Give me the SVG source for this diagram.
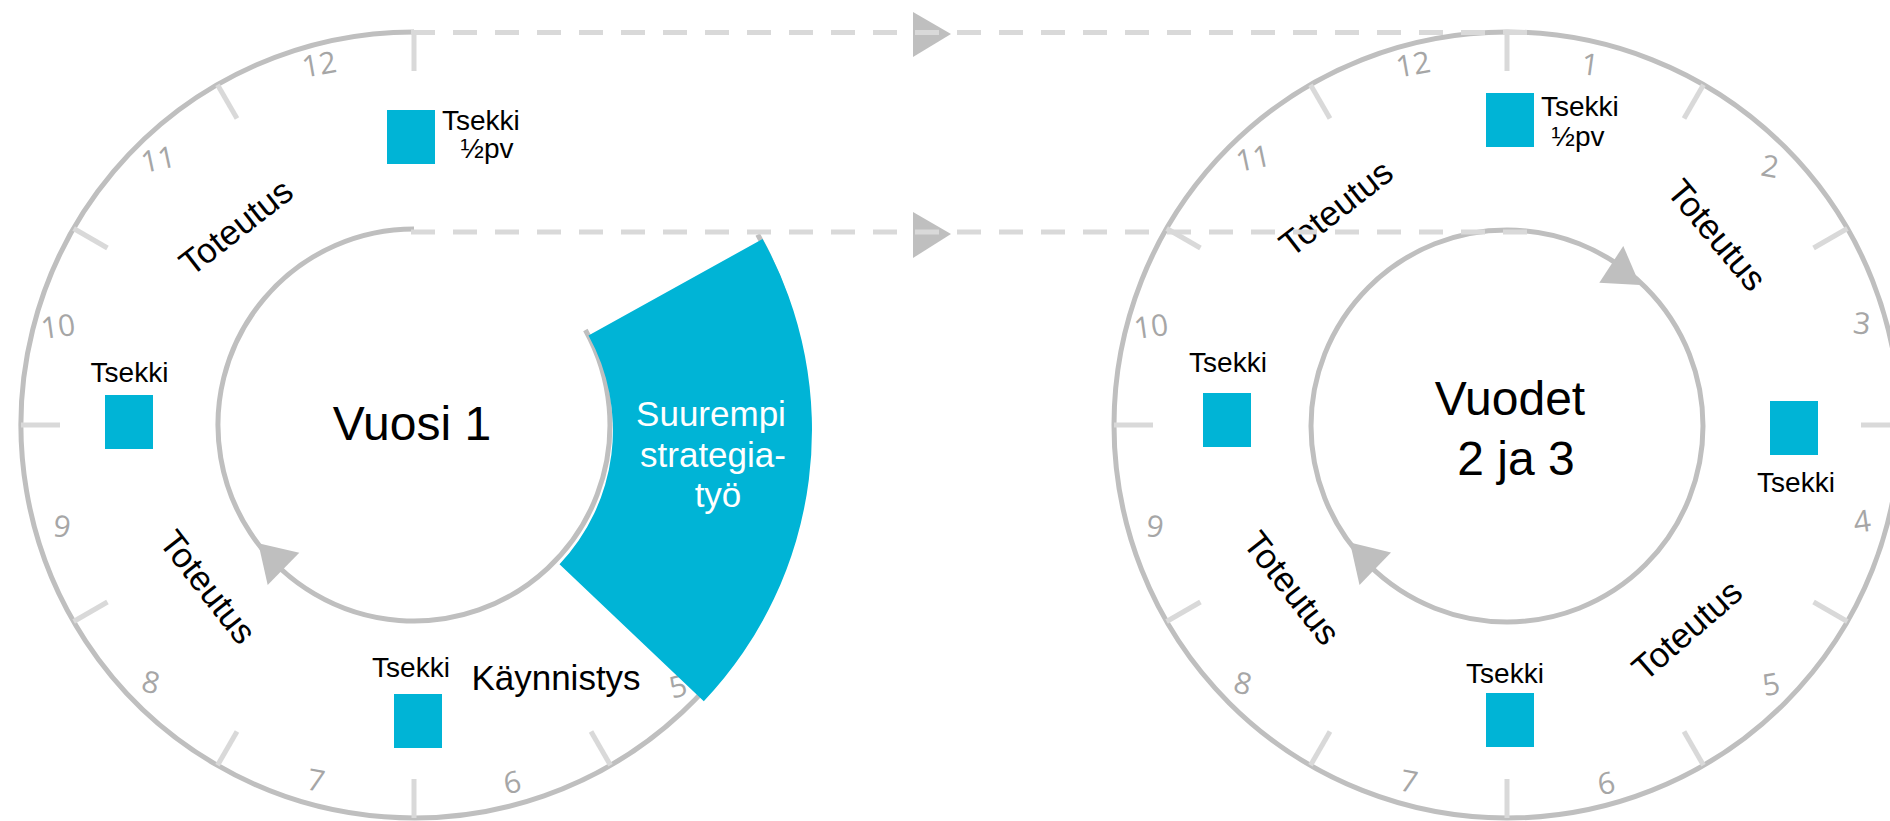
<svg xmlns="http://www.w3.org/2000/svg" width="1890" height="821" viewBox="0 0 1890 821">
<style>
.ring{fill:none;stroke:#BFBFBF;stroke-width:5}
.tick{stroke:#D9D9D9;stroke-width:5}
.num{font-family:"Open Sans","Liberation Sans",sans-serif;font-weight:400;font-size:30px;fill:#A6A6A6;text-anchor:middle}
.lbl{font-family:"Liberation Sans",sans-serif;font-size:28px;fill:#000}
.mid{text-anchor:middle}
.phase{font-family:"Liberation Sans",sans-serif;font-size:35px;fill:#000;text-anchor:middle}
.title{font-family:"Liberation Sans",sans-serif;font-size:48px;fill:#000;text-anchor:middle}
.white{font-family:"Liberation Sans",sans-serif;font-size:35px;fill:#FFFFFF;text-anchor:middle}
.chk{fill:#00B4D6}
.dash{stroke:#D9D9D9;stroke-width:5;stroke-dasharray:24 18;fill:none}
.ah{fill:#BFBFBF}
</style>
<rect width="1890" height="821" fill="#FFFFFF"/>

<!-- Left clock: Vuosi 1 -->
<g id="clock-vuosi1">
  <path class="ring" d="M 757.7 234.5 A 393 393 0 1 1 414 32"/>
  <path class="ring" d="M 585.4 330 A 196 196 0 1 1 414 229"/>
  <g transform="translate(414,425)">
    <line class="tick" x1="0" y1="-393" x2="0" y2="-354" transform="rotate(150)"/>
    <line class="tick" x1="0" y1="-393" x2="0" y2="-354" transform="rotate(180)"/>
    <line class="tick" x1="0" y1="-393" x2="0" y2="-354" transform="rotate(210)"/>
    <line class="tick" x1="0" y1="-393" x2="0" y2="-354" transform="rotate(240)"/>
    <line class="tick" x1="0" y1="-393" x2="0" y2="-354" transform="rotate(270)"/>
    <line class="tick" x1="0" y1="-393" x2="0" y2="-354" transform="rotate(300)"/>
    <line class="tick" x1="0" y1="-393" x2="0" y2="-354" transform="rotate(330)"/>
    <line class="tick" x1="0" y1="-393" x2="0" y2="-354" transform="rotate(360)"/>
  </g>
  <text class="num" transform="translate(319,64) rotate(-10)" y="11">12</text>
  <text class="num" transform="translate(158,159) rotate(-12)" y="11">11</text>
  <text class="num" transform="translate(58,326) rotate(-8)" y="11">10</text>
  <text class="num" transform="translate(62,526) rotate(8)" y="11">9</text>
  <text class="num" transform="translate(151,682) rotate(14)" y="11">8</text>
  <text class="num" transform="translate(316,780) rotate(10)" y="11">7</text>
  <text class="num" transform="translate(512,782) rotate(-12)" y="11">6</text>
  <text class="num" transform="translate(678,686) rotate(-14)" y="11">5</text>
  <polygon class="ah" points="258.3,543.3 299.3,552.7 267.7,585"/>
  <text class="title" x="412" y="440">Vuosi 1</text>
  <text class="phase" transform="translate(236,227) rotate(-38)" y="12">Toteutus</text>
  <text class="phase" transform="translate(208,587) rotate(52)" y="12">Toteutus</text>
  <text class="phase" x="556" y="690">Käynnistys</text>
</g>

<g id="strategiatyo">
  <path fill="#00B4D6" d="M 762.6 239 A 394 394 0 0 1 703.8 701.2 L 559.5 564.2 A 195 195 0 0 0 588.5 335.5 Z"/>
  <text class="white" x="711" y="426">Suurempi</text>
  <text class="white" x="713" y="467">strategia-</text>
  <text class="white" x="718" y="507">työ</text>
</g>

<g id="tsekki-v1-top">
  <rect class="chk" x="387" y="110" width="48" height="54"/>
  <text class="lbl" x="442" y="130">Tsekki</text>
  <text class="lbl mid" x="487" y="158">½pv</text>
</g>
<g id="tsekki-v1-left">
  <rect class="chk" x="105" y="395" width="48" height="54"/>
  <text class="lbl mid" x="129.5" y="382">Tsekki</text>
</g>
<g id="tsekki-v1-bottom">
  <rect class="chk" x="394" y="694" width="48" height="54"/>
  <text class="lbl mid" x="411" y="677">Tsekki</text>
</g>

<!-- Right clock: Vuodet 2 ja 3 -->
<g id="clock-vuodet23">
  <circle class="ring" cx="1507" cy="425" r="393"/>
  <circle class="ring" cx="1507" cy="426" r="196"/>
  <g transform="translate(1507,425)">
    <line class="tick" x1="0" y1="-393" x2="0" y2="-354" transform="rotate(0)"/>
    <line class="tick" x1="0" y1="-393" x2="0" y2="-354" transform="rotate(30)"/>
    <line class="tick" x1="0" y1="-393" x2="0" y2="-354" transform="rotate(60)"/>
    <line class="tick" x1="0" y1="-393" x2="0" y2="-354" transform="rotate(90)"/>
    <line class="tick" x1="0" y1="-393" x2="0" y2="-354" transform="rotate(120)"/>
    <line class="tick" x1="0" y1="-393" x2="0" y2="-354" transform="rotate(150)"/>
    <line class="tick" x1="0" y1="-393" x2="0" y2="-354" transform="rotate(180)"/>
    <line class="tick" x1="0" y1="-393" x2="0" y2="-354" transform="rotate(210)"/>
    <line class="tick" x1="0" y1="-393" x2="0" y2="-354" transform="rotate(240)"/>
    <line class="tick" x1="0" y1="-393" x2="0" y2="-354" transform="rotate(270)"/>
    <line class="tick" x1="0" y1="-393" x2="0" y2="-354" transform="rotate(300)"/>
    <line class="tick" x1="0" y1="-393" x2="0" y2="-354" transform="rotate(330)"/>
  </g>
  <text class="num" transform="translate(1413,64) rotate(-10)" y="11">12</text>
  <text class="num" transform="translate(1590,64) rotate(8)" y="11">1</text>
  <text class="num" transform="translate(1770,166) rotate(10)" y="11">2</text>
  <text class="num" transform="translate(1862,323) rotate(6)" y="11">3</text>
  <text class="num" transform="translate(1862,521) rotate(-8)" y="11">4</text>
  <text class="num" transform="translate(1771,684) rotate(-10)" y="11">5</text>
  <text class="num" transform="translate(1606,783) rotate(-12)" y="11">6</text>
  <text class="num" transform="translate(1409,781) rotate(10)" y="11">7</text>
  <text class="num" transform="translate(1243,683) rotate(14)" y="11">8</text>
  <text class="num" transform="translate(1155,526) rotate(8)" y="11">9</text>
  <text class="num" transform="translate(1151,326) rotate(-8)" y="11">10</text>
  <text class="num" transform="translate(1253,158) rotate(-12)" y="11">11</text>
  <polygon class="ah" points="1640,285 1623.3,246 1599.3,282.7"/>
  <polygon class="ah" points="1350,542.5 1391,552.5 1359.5,585"/>
  <text class="title" x="1510" y="415">Vuodet</text>
  <text class="title" x="1516" y="475">2 ja 3</text>
  <text class="phase" transform="translate(1336,208) rotate(-38)" y="12">Toteutus</text>
  <text class="phase" transform="translate(1717,235) rotate(50)" y="12">Toteutus</text>
  <text class="phase" transform="translate(1292,588) rotate(52)" y="12">Toteutus</text>
  <text class="phase" transform="translate(1687,630) rotate(-41)" y="12">Toteutus</text>
</g>

<g id="tsekki-v23-top">
  <rect class="chk" x="1486" y="93" width="48" height="54"/>
  <text class="lbl" x="1541" y="116">Tsekki</text>
  <text class="lbl mid" x="1578" y="146">½pv</text>
</g>
<g id="tsekki-v23-left">
  <rect class="chk" x="1203" y="393" width="48" height="54"/>
  <text class="lbl mid" x="1228" y="372">Tsekki</text>
</g>
<g id="tsekki-v23-right">
  <rect class="chk" x="1770" y="401" width="48" height="54"/>
  <text class="lbl mid" x="1796" y="492">Tsekki</text>
</g>
<g id="tsekki-v23-bottom">
  <rect class="chk" x="1486" y="693" width="48" height="54"/>
  <text class="lbl mid" x="1505" y="683">Tsekki</text>
</g>

<g id="connectors">
  <polygon class="ah" points="913,12 951,34 913,57"/>
  <polygon class="ah" points="913,212 951,234 913,258"/>
  <line class="dash" x1="411" y1="32.5" x2="1527" y2="32.5"/>
  <line class="dash" x1="411" y1="232" x2="1527" y2="232"/>
</g>
</svg>
